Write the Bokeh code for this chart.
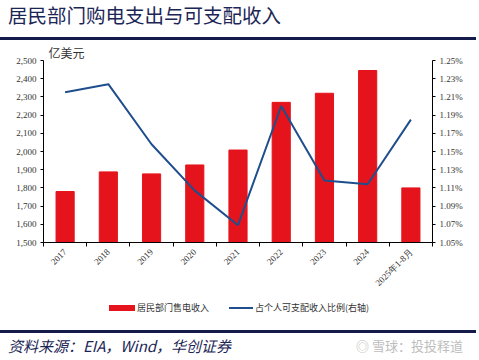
from bokeh.plotting import figure
from bokeh.layouts import column
from bokeh.models import (Range1d, LinearAxis, FixedTicker, NumeralTickFormatter,
                          ColumnDataSource, Div)
from bokeh.embed import file_html
from bokeh.resources import INLINE
import math

# ---- data ----
categories = ["2017", "2018", "2019", "2020", "2021", "2022", "2023", "2024", "2025年1-8月"]
sales = [1780, 1888, 1877, 1926, 2008, 2270, 2320, 2445, 1800]          # 亿美元
ratio_pct = [1.215, 1.224, 1.158, 1.107, 1.069, 1.200, 1.118, 1.114, 1.185]  # %
left_ticks = [1500, 1600, 1700, 1800, 1900, 2000, 2100, 2200, 2300, 2400, 2500]
right_ticks_pct = [1.05, 1.07, 1.09, 1.11, 1.13, 1.15, 1.17, 1.19, 1.21, 1.23, 1.25]
title_text = "居民部门购电支出与可支配收入"
unit_text = "亿美元"
legend_labels = ["居民部门售电收入", "占个人可支配收入比例(右轴)"]
source_text = "资料来源：EIA，Wind，华创证券"
watermark_text = "雪球：投投释道"

W = 479
serif = "Liberation Serif"
cjk = "Noto Sans CJK SC"
navy = "#1B2656"
barnavy = "#141B4A"
bar_color = "#E5141C"
line_color = "#1F4E8C"

# ---- header ----
HH = 41
hdr = Div(width=W, height=HH, margin=0, text=(
    f'<div style="width:476px;height:40px;box-sizing:border-box;border-bottom:3px solid {barnavy};'
    f"font-family:'{cjk}';font-size:19.5px;color:{navy};line-height:30px;padding-left:8px;"
    f'white-space:nowrap;">{title_text}</div>'))

# ---- main chart ----
xc = [i + 0.5 for i in range(len(categories))]
src = ColumnDataSource(dict(x=xc, sales=sales, ratio=[r / 100 for r in ratio_pct]))

MH = 255
p = figure(width=W, height=MH, output_backend="svg", toolbar_location=None, title=unit_text,
           x_range=Range1d(0, len(categories)), y_range=Range1d(left_ticks[0], left_ticks[-1]),
           min_border_left=43, min_border_right=47, min_border_top=18, min_border_bottom=54,
           x_axis_location=None, y_axis_location=None, margin=0)
p.title.align = "left"
p.title.offset = 5
p.title.standoff = 0
p.title.text_font = cjk
p.title.text_font_size = "12px"
p.title.text_font_style = "normal"
p.title.text_color = "#333333"
p.outline_line_color = None
p.grid.visible = False
p.extra_y_ranges = {"r": Range1d(right_ticks_pct[0] / 100, right_ticks_pct[-1] / 100)}

la = LinearAxis(ticker=FixedTicker(ticks=left_ticks),
                formatter=NumeralTickFormatter(format="0,0"))
ra = LinearAxis(y_range_name="r", ticker=FixedTicker(ticks=[t / 100 for t in right_ticks_pct]),
                formatter=NumeralTickFormatter(format="0.00%"))
for ax in (la, ra):
    ax.major_label_text_font = serif
    ax.major_label_text_font_size = "9px"
    ax.major_label_text_color = "#333333"
    ax.major_tick_out = 3
    ax.major_tick_in = 0
    ax.major_label_standoff = 4
    ax.minor_tick_line_color = None
    ax.axis_line_color = "black"
p.add_layout(la, "left")
p.add_layout(ra, "right")

ba = LinearAxis(ticker=FixedTicker(ticks=xc, minor_ticks=list(range(len(categories) + 1))))
ba.major_label_overrides = {x: c for x, c in zip(xc, categories)}
ba.major_label_orientation = math.pi / 4
ba.major_label_text_font = serif
ba.major_label_text_font_size = "9px"
ba.major_label_text_color = "#333333"
ba.major_tick_out = 0
ba.major_tick_in = 0
ba.minor_tick_out = 4
ba.minor_tick_in = 0
ba.minor_tick_line_color = "black"
ba.major_label_standoff = 4
ba.axis_line_color = "black"
p.add_layout(ba, "below")

p.vbar(x="x", top="sales", bottom=left_ticks[0], width=0.42, source=src,
       fill_color=bar_color, line_color=bar_color)
p.line(x="x", y="ratio", y_range_name="r", source=src, line_color=line_color, line_width=2)

# ---- legend strip (HTML) ----
LH = 26
lab = f"position:absolute;top:0;line-height:24px;font-family:'{cjk}';font-size:9px;color:#333333;white-space:nowrap;"
legdiv = Div(width=W, height=LH, margin=0, text=(
    f'<div style="position:relative;width:476px;height:{LH}px;">'
    f'<div style="position:absolute;left:109px;top:9px;width:26px;height:6px;background:{bar_color};"></div>'
    f'<div style="{lab}left:137px;">{legend_labels[0]}</div>'
    f'<div style="position:absolute;left:229px;top:11px;width:24px;height:2px;background:{line_color};"></div>'
    f'<div style="{lab}left:255px;">{legend_labels[1]}</div>'
    f'</div>'))

# ---- footer ----
FH = 38
ftr = Div(width=W, height=FH, margin=0, text=(
    f'<div style="position:relative;width:476px;height:38px;">'
    f'<div style="position:absolute;left:0;top:8px;width:476px;height:3px;background:{barnavy};"></div>'
    f"<div style=\"position:absolute;left:8px;top:11px;line-height:26px;font-family:'{cjk}';"
    f'font-size:15px;font-style:italic;color:{navy};white-space:nowrap;">{source_text}</div>'
    f"<div style=\"position:absolute;left:356px;top:11px;line-height:26px;font-family:'{cjk}';"
    f'font-size:13px;color:#BDBDBD;white-space:nowrap;">&#9678; {watermark_text}</div>'
    f'</div>'))

layout = column(hdr, p, legdiv, ftr, spacing=0)
open("out.html", "w").write(file_html(layout, INLINE))
